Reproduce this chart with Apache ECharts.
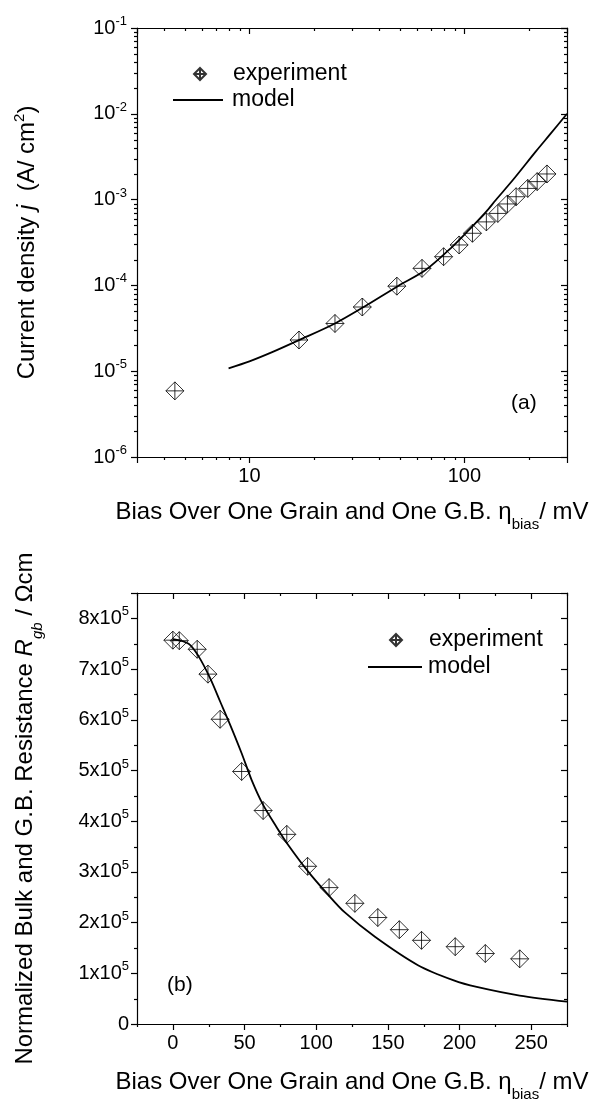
<!DOCTYPE html>
<html>
<head>
<meta charset="utf-8">
<title>Current density and G.B. resistance vs bias</title>
<script src="https://cdn.jsdelivr.net/npm/echarts@6.0.0/dist/echarts.min.js"></script>
<style>
  html, body { margin: 0; padding: 0; background: #fff; }
  #chart { width: 591px; height: 1103px; }
</style>
</head>
<body>
<div id="chart"></div>
<script>
// (a) current density vs bias, log-log
const biasA = [4.5, 17, 25, 33.5, 48.5, 63.5, 80, 94.5, 109, 126.5, 143, 158.5, 174, 197, 218, 242]
const currentExp = [5.9e-6, 2.31e-5, 3.6e-5, 5.6e-5, 9.8e-5, 1.58e-4, 2.16e-4, 2.96e-4, 4.05e-4, 5.5e-4, 6.9e-4, 8.9e-4, 1.08e-3, 1.35e-3, 1.62e-3, 1.99e-3]
const biasModelA = [8, 10, 13, 17, 25, 34, 49, 66, 88, 105, 126, 140, 168, 215, 250, 300]
const currentModel = [1.08e-5, 1.3e-5, 1.7e-5, 2.3e-5, 3.6e-5, 5.6e-5, 9.8e-5, 1.51e-4, 2.83e-4, 4.43e-4, 7.2e-4, 9.9e-4, 1.69e-3, 3.65e-3, 5.75e-3, 1.0e-2]

// (b) normalized resistance vs bias, linear
const biasB = [0, 4.5, 17, 24.5, 33, 48, 63, 79.5, 94, 109, 127, 143, 158, 173.5, 197, 218, 242]
const resistExp = [7.57e5, 7.56e5, 7.39e5, 6.90e5, 6.01e5, 4.98e5, 4.21e5, 3.74e5, 3.11e5, 2.69e5, 2.38e5, 2.10e5, 1.86e5, 1.65e5, 1.525e5, 1.39e5, 1.285e5]
const biasModelB = [0, 11, 18, 26, 33, 40, 48, 55, 63, 72, 80, 94, 108, 120, 141, 171, 196, 212, 242, 275]
const resistModel = [7.59e5, 7.5e5, 7.25e5, 6.82e5, 6.36e5, 5.9e5, 5.34e5, 4.81e5, 4.32e5, 3.9e5, 3.55e5, 3.02e5, 2.56e5, 2.2e5, 1.72e5, 1.16e5, 0.86e5, 0.73e5, 0.56e5, 0.44e5]

// ticks
const xMajorB = [0, 50, 100, 150, 200, 250]
const xMinorA = [4, 5, 6, 7, 8, 9, 20, 30, 40, 50, 60, 70, 80, 90, 200]
const yMinorA = [1e-6, 1e-5, 1e-4, 1e-3, 1e-2].flatMap(d => [2, 3, 4, 5, 6, 7, 8, 9].map(k => k * d))
const xMinorB = [-25, 25, 75, 125, 175, 225, 275]
const yMinorB = [0.5e5, 1.5e5, 2.5e5, 3.5e5, 4.5e5, 5.5e5, 6.5e5, 7.5e5]

const FONT = "'Liberation Sans', Arial, sans-serif"
const BLACK = '#000'
const MARKER = 'path://M10,0 L20,10 L10,20 L0,10 Z M10,0 L10,20 M0,10 L20,10'

const tickRich = {
  n: { fontFamily: FONT, fontSize: 20, lineHeight: 26, color: BLACK },
  s: { fontFamily: FONT, fontSize: 13, color: BLACK, verticalAlign: 'top' },
}
const titleRich = {
  n: { fontFamily: FONT, fontSize: 24, lineHeight: 40, color: BLACK },
  i: { fontFamily: FONT, fontSize: 24, lineHeight: 40, color: BLACK, fontStyle: 'italic' },
  sub: { fontFamily: FONT, fontSize: 15, color: BLACK, verticalAlign: 'bottom' },
  subi: { fontFamily: FONT, fontSize: 15, color: BLACK, verticalAlign: 'bottom', fontStyle: 'italic' },
}
const titleRichA = {
  n: { fontFamily: FONT, fontSize: 24, lineHeight: 30, color: BLACK },
  i: { fontFamily: FONT, fontSize: 24, lineHeight: 30, color: BLACK, fontStyle: 'italic' },
  s: { fontFamily: FONT, fontSize: 15, color: BLACK, verticalAlign: 'top' },
}
const xTitle = '{n|Bias Over One Grain and One G.B. η}{sub|bias}{n|/ mV}'

const lineStyle = { color: BLACK, width: 1.2 }

function logLabel(v) {
  const e = Math.log10(v)
  return Math.abs(e - Math.round(e)) < 1e-6 ? String(Math.round(v)) : ''
}
function powLabel(v) {
  return '{n|10}{s|' + Math.round(Math.log10(v)) + '}'
}
function sciLabel(v) {
  if (v === 0) return '{n|0}'
  if (v % 100000 !== 0) return ''
  return '{n|' + (v / 100000) + 'x10}{s|5}'
}

function frameAxis(base, pos) {
  return Object.assign({}, base, {
    position: pos,
    axisLine: { onZero: false, lineStyle },
    axisTick: { inside: true, length: 6, lineStyle, customValues: base.tickValues },
    axisLabel: { show: false },
    splitLine: { show: false },
  })
}

function minorTicks(xIdx, yIdx, xs, ys, refX, refY) {
  const data = xs.map(v => [v, refY, 0]).concat(ys.map(v => [refX, v, 1]))
  return {
    type: 'custom',
    xAxisIndex: xIdx,
    yAxisIndex: yIdx,
    silent: true,
    clip: false,
    z: 5,
    encode: { x: 0, y: 1 },
    data,
    renderItem(params, api) {
      const cs = params.coordSys
      const p = api.coord([api.value(0), api.value(1)])
      const st = { stroke: BLACK, lineWidth: 1.2 }
      if (api.value(2) === 0) {
        const x = Math.round(p[0]) + 0.5
        const yb = cs.y + cs.height
        return { type: 'group', children: [
          { type: 'line', shape: { x1: x, y1: yb, x2: x, y2: yb + 3 }, style: st },
          { type: 'line', shape: { x1: x, y1: cs.y, x2: x, y2: cs.y + 3 }, style: st },
        ] }
      }
      const y = Math.round(p[1]) + 0.5
      const xr = cs.x + cs.width
      return { type: 'group', children: [
        { type: 'line', shape: { x1: cs.x - 3, y1: y, x2: cs.x, y2: y }, style: st },
        { type: 'line', shape: { x1: xr - 3, y1: y, x2: xr, y2: y }, style: st },
      ] }
    },
  }
}

const axisA_x = { gridIndex: 0, type: 'log', logBase: 10, min: 3, max: 300 }
const axisA_y = { gridIndex: 0, type: 'log', logBase: 10, min: 1e-6, max: 1e-1 }
const axisB_x = { gridIndex: 1, type: 'value', min: -25, max: 275, interval: 25, tickValues: xMajorB }
const axisB_y = { gridIndex: 1, type: 'value', min: 0, max: 850000, interval: 100000 }

const labelBase = { fontFamily: FONT, fontSize: 20, color: BLACK }
const legendText = { fontFamily: FONT, fontSize: 23, lineHeight: 26, color: BLACK }

const chart = echarts.init(document.getElementById('chart'))
chart.setOption({
  animation: false,
  backgroundColor: '#fff',
  grid: [
    { left: 137, top: 28, width: 430, height: 429, containLabel: false, outerBoundsMode: 'none' },
    { left: 137, top: 593, width: 430, height: 431, containLabel: false, outerBoundsMode: 'none' },
  ],
  xAxis: [
    Object.assign({}, axisA_x, {
      position: 'bottom',
      axisLine: { onZero: false, lineStyle },
      axisTick: { length: 6, lineStyle },
      axisLabel: Object.assign({ formatter: logLabel, margin: 9 }, labelBase),
      splitLine: { show: false },
      name: xTitle, nameLocation: 'middle', nameGap: 35,
      nameTextStyle: { rich: titleRich },
    }),
    frameAxis(axisA_x, 'top'),
    Object.assign({}, axisB_x, {
      position: 'bottom',
      axisLine: { onZero: false, lineStyle },
      axisTick: { length: 6, lineStyle, customValues: xMajorB },
      axisLabel: Object.assign({ customValues: xMajorB, margin: 9 }, labelBase),
      splitLine: { show: false },
      name: xTitle, nameLocation: 'middle', nameGap: 38,
      nameTextStyle: { rich: titleRich },
    }),
    frameAxis(axisB_x, 'top'),
  ],
  yAxis: [
    Object.assign({}, axisA_y, {
      position: 'left',
      axisLine: { onZero: false, lineStyle },
      axisTick: { length: 6, lineStyle },
      axisLabel: { formatter: powLabel, margin: 10, rich: tickRich },
      splitLine: { show: false },
      name: '{n|Current density }{i|j}{n|  (A/ cm}{s|2}{n|)}',
      nameLocation: 'middle', nameRotate: 90, nameGap: 95,
      nameTextStyle: { rich: titleRichA },
    }),
    frameAxis(axisA_y, 'right'),
    Object.assign({}, axisB_y, {
      position: 'left',
      axisLine: { onZero: false, lineStyle },
      axisTick: { length: 6, lineStyle },
      axisLabel: { formatter: sciLabel, margin: 8, rich: tickRich },
      splitLine: { show: false },
      name: '{n|Normalized Bulk and G.B. Resistance }{i|R}{subi|gb}{n| / Ωcm}',
      nameLocation: 'middle', nameRotate: 90, nameGap: 92,
      nameTextStyle: { rich: titleRich },
    }),
    frameAxis(axisB_y, 'right'),
  ],
  legend: [
    { data: ['experiment'], left: 193, top: 61, padding: 0, itemWidth: 12, itemHeight: 12, selectedMode: false,
      textStyle: Object.assign({ padding: [0, 0, 0, 22] }, legendText) },
    { data: ['model'], left: 173, top: 87, padding: 0, itemWidth: 50, itemHeight: 2, icon: 'rect', selectedMode: false,
      textStyle: Object.assign({ padding: [0, 0, 0, 4] }, legendText) },
    { data: ['experiment'], left: 389, top: 627, padding: 0, itemWidth: 12, itemHeight: 12, selectedMode: false,
      textStyle: Object.assign({ padding: [0, 0, 0, 22] }, legendText) },
    { data: ['model'], left: 368, top: 654, padding: 0, itemWidth: 54, itemHeight: 2, icon: 'rect', selectedMode: false,
      textStyle: Object.assign({ padding: [0, 0, 0, 1] }, legendText) },
  ],
  graphic: [
    { type: 'text', left: 511, top: 393, style: { text: '(a)', font: '21px ' + FONT, fill: BLACK } },
    { type: 'text', left: 167, top: 975, style: { text: '(b)', font: '21px ' + FONT, fill: BLACK } },
  ],
  series: [
    {
      name: 'model', type: 'line', xAxisIndex: 0, yAxisIndex: 0,
      data: biasModelA.map((x, i) => [x, currentModel[i]]),
      showSymbol: false, smooth: 0.3, color: BLACK,
      itemStyle: { color: BLACK },
      lineStyle: { color: BLACK, width: 1.8 },
    },
    {
      name: 'experiment', type: 'scatter', xAxisIndex: 0, yAxisIndex: 0,
      data: biasA.map((x, i) => [x, currentExp[i]]),
      symbol: MARKER, symbolSize: 18,
      itemStyle: { color: 'rgba(0,0,0,0)', borderColor: BLACK, borderWidth: 1 },
    },
    {
      name: 'model', type: 'line', xAxisIndex: 2, yAxisIndex: 2,
      data: biasModelB.map((x, i) => [x, resistModel[i]]),
      showSymbol: false, smooth: 0.3, color: BLACK,
      itemStyle: { color: BLACK },
      lineStyle: { color: BLACK, width: 1.8 },
    },
    {
      name: 'experiment', type: 'scatter', xAxisIndex: 2, yAxisIndex: 2,
      data: biasB.map((x, i) => [x, resistExp[i]]),
      symbol: MARKER, symbolSize: 18,
      itemStyle: { color: 'rgba(0,0,0,0)', borderColor: BLACK, borderWidth: 1 },
    },
    minorTicks(0, 0, xMinorA, yMinorA, 10, 1e-3),
    minorTicks(2, 2, xMinorB, yMinorB, 0, 100000),
  ],
})

window.addEventListener('resize', () => chart.resize())
</script>
</body>
</html>
